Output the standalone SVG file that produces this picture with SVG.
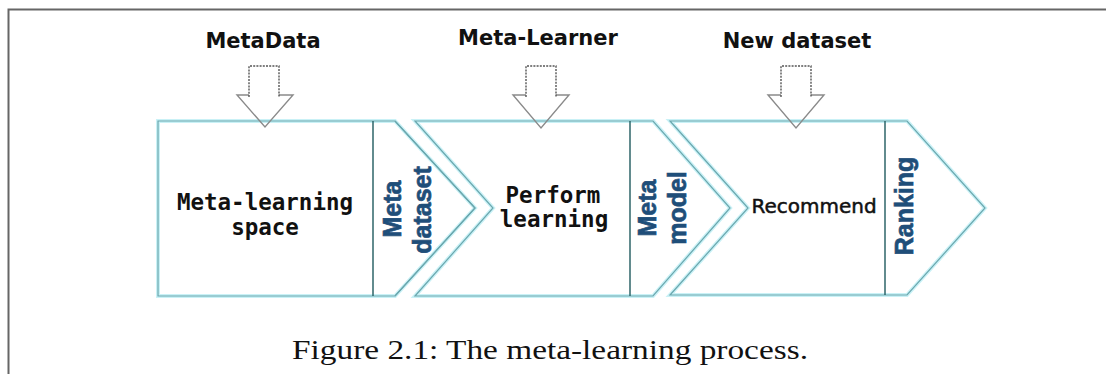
<svg xmlns="http://www.w3.org/2000/svg" width="1106" height="374" viewBox="0 0 1106 374">
<style>
.halo{fill:#ffffff;stroke:#c9f1f6;stroke-width:4;stroke-linejoin:miter}
.edge{fill:none;stroke:#6aa7ae;stroke-width:1.2;stroke-linejoin:miter}
.div{stroke:#2e6469;stroke-width:1.5}
.mono{font-family:"DejaVu Sans Mono","Liberation Mono",monospace;font-weight:bold;font-size:22.5px;fill:#111;text-anchor:middle}
.sans{font-family:"DejaVu Sans","Liberation Sans",sans-serif;font-size:20px;fill:#111;stroke:#111;stroke-width:0.5;text-anchor:middle}
.vert{font-family:"Liberation Sans",Arial,sans-serif;font-weight:bold;font-size:25px;fill:#1f4e79;stroke:#1f4e79;stroke-width:0.7;text-anchor:middle}
.top{font-family:"DejaVu Sans","Liberation Sans",sans-serif;font-weight:bold;font-size:21px;fill:#111;text-anchor:middle}
.shaft{fill:#ffffff;stroke:#555;stroke-width:1.4;stroke-dasharray:2 1.2}
.head{fill:none;stroke:#8a8a8a;stroke-width:1.4;stroke-linejoin:miter}
</style>
<rect width="1106" height="374" fill="#ffffff"/>
<path d="M8.5,374 V9.5 H1106" fill="none" stroke="#666" stroke-width="2"/>

<g id="node-metalearning-space">
  <polygon class="halo" points="158,121 395,121 475,208 395,296 158,296"/>
  <polygon class="edge" points="158,121 395,121 475,208 395,296 158,296" stroke="#8fdbe4"/>
  <path class="edge" d="M395,121 L475,208 L395,296"/>
  <line class="div" x1="373" y1="121" x2="373" y2="296"/>
  <text class="mono" x="265" y="210">Meta-learning</text>
  <text class="mono" x="265" y="235">space</text>
</g>

<g id="node-perform-learning">
  <polygon class="halo" points="415,121 653,121 730,208 653,296 415,296 493,208"/>
  <polygon class="edge" points="415,121 653,121 730,208 653,296 415,296 493,208"/>
  <line class="div" x1="630" y1="121" x2="630" y2="296"/>
  <text class="mono" x="553" y="203">Perform</text>
  <text class="mono" x="554" y="227">learning</text>
</g>

<g id="node-recommend">
  <polygon class="halo" points="670,121 907,121 985,208 907,295 670,295 748,208"/>
  <polygon class="edge" points="670,121 907,121 985,208 907,295 670,295 748,208"/>
  <line class="div" x1="885" y1="121" x2="885" y2="295"/>
  <text class="sans" x="814" y="213">Recommend</text>
</g>

<g id="label-meta-dataset">
  <text class="vert" transform="translate(401,209) rotate(-90)">Meta</text>
  <text class="vert" transform="translate(431,210) rotate(-90)">dataset</text>
</g>
<g id="label-meta-model">
  <text class="vert" transform="translate(656,208) rotate(-90)">Meta</text>
  <text class="vert" transform="translate(686,208) rotate(-90)">model</text>
</g>
<g id="label-ranking">
  <text class="vert" transform="translate(913,206) rotate(-90)">Ranking</text>
</g>

<g id="connectors">
  <g id="arrow-metadata">
    <path class="head" d="M249,95 H237 L265,127 L293,95 H279"/>
    <path class="shaft" d="M249,97 V66 H279 V97"/>
  </g>
  <g id="arrow-metalearner">
    <path class="head" d="M526,95 H513 L541,128 L569,95 H556"/>
    <path class="shaft" d="M526,97 V66 H556 V97"/>
  </g>
  <g id="arrow-newdataset">
    <path class="head" d="M781,95 H768 L796,128 L824,95 H811"/>
    <path class="shaft" d="M781,97 V66 H811 V97"/>
  </g>
</g>

<g id="top-labels">
  <text class="top" x="263" y="48">MetaData</text>
  <text class="top" x="538" y="45">Meta-Learner</text>
  <text class="top" x="797" y="48">New dataset</text>
</g>

<text x="550" y="359" font-family="'Liberation Serif',serif" font-size="28" fill="#111" text-anchor="middle" textLength="516" lengthAdjust="spacingAndGlyphs">Figure 2.1: The meta-learning process.</text>
</svg>
